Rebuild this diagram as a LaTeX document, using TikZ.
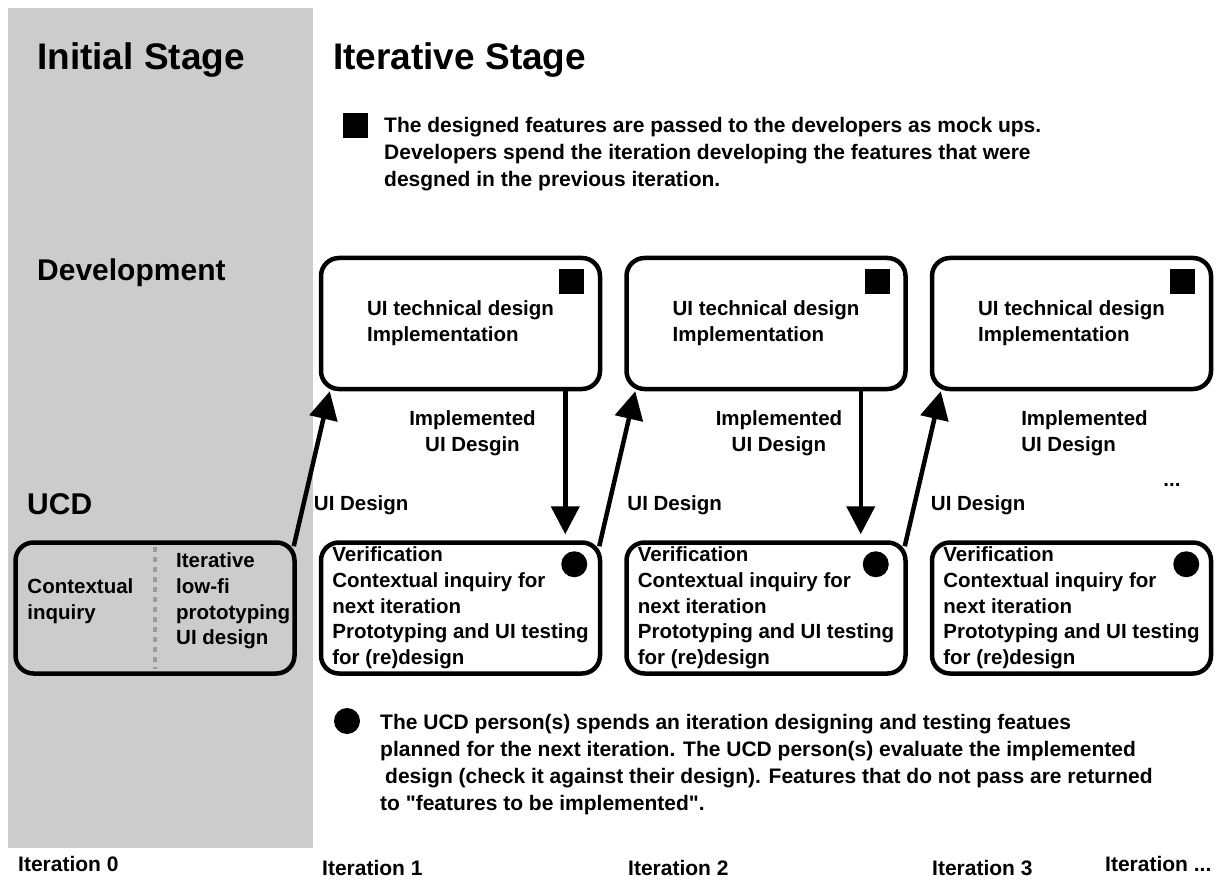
\documentclass[tikz,border=0pt]{standalone}
\usepackage{fontspec}
\setmainfont{Liberation Sans}
\usepackage{xcolor}
\usetikzlibrary{arrows.meta,positioning}

\definecolor{panelgray}{HTML}{CCCCCC}
\definecolor{dotgray}{HTML}{9A9A9A}
\newcommand{\boxfont}{\fontsize{20.5}{25.7}\selectfont\bfseries}

\tikzset{
  stagebox/.style={draw, line width=4.5pt, rounded corners=18pt,
    minimum width=279pt, minimum height=131pt,
    align=left, inner sep=0pt, font=\boxfont},
  initbox/.style={fill=panelgray},
  title/.style={font=\fontsize{37}{44}\selectfont\bfseries, inner sep=0pt},
  rowlabel/.style={font=\fontsize{30}{36}\selectfont\bfseries, inner sep=0pt},
  boxtext/.style={font=\boxfont, align=left, inner sep=0pt},
  note/.style={font=\fontsize{21}{27}\selectfont\bfseries, align=left, inner sep=0pt},
  devmark/.style={fill=black, minimum size=25pt, inner sep=0pt},
  ucdmark/.style={circle, fill=black, minimum size=26pt, inner sep=0pt},
  divider/.style={draw=dotgray, line width=4.5pt, dash pattern=on 5pt off 5pt},
  flow/.style={line width=4.5pt, -{Triangle[length=28pt,width=28pt]}},
}

\begin{document}
\begin{tikzpicture}[x=1pt,y=-1pt]
    \path[fill=white] (0,0) rectangle (1223,882);
    \fill[panelgray] (8,8) rectangle (313,848);

    \node[title, anchor=base west] (init) at (37,70) {Initial Stage};
    \node[title, anchor=base west] (iter) at (333,70) {Iterative Stage};
    \node[rowlabel, anchor=base west] (dev) at (37,281) {Development};
    \node[rowlabel, anchor=base west] (ucd) at (27,514) {UCD};

    % key for the developer boxes
    \node[devmark, anchor=north west] (sqkey) at (343,113) {};
    \node[note, anchor=north west] (sqnote) at (384,117)
      {The designed features are passed to the developers as mock ups.\\
       Developers spend the iteration developing the features that were\\
       desgned in the previous iteration.};

    % UCD row
    \node[stagebox, initbox] (ucd0) at (155,608) {};
    \node[stagebox, right=22pt of ucd0] (ucd1) {Verification\\Contextual inquiry for\\next iteration\\Prototyping and UI testing\\for (re)design};
    \node[stagebox, right=22pt of ucd1] (ucd2) {Verification\\Contextual inquiry for\\next iteration\\Prototyping and UI testing\\for (re)design};
    \node[stagebox, right=22pt of ucd2] (ucd3) {Verification\\Contextual inquiry for\\next iteration\\Prototyping and UI testing\\for (re)design};

    % development row
    \node[stagebox, above=149pt of ucd1] (dev1) {UI technical design\\Implementation};
    \node[stagebox, above=149pt of ucd2] (dev2) {UI technical design\\Implementation};
    \node[stagebox, above=149pt of ucd3] (dev3) {UI technical design\\Implementation};

    % initial UCD box
    \node[boxtext, anchor=west] (ctx) at ([xshift=14pt,yshift=7pt]ucd0.west) {Contextual\\inquiry};
    \node[boxtext, anchor=west] (lofi) at ([xshift=21pt,yshift=7pt]ucd0.center) {Iterative\\low-fi\\prototyping\\UI design};
    \draw[divider] ([yshift=-7pt]ucd0.north) -- ([yshift=7pt]ucd0.south);

    \node[devmark, anchor=north east] at ([xshift=-18pt,yshift=-13pt]dev1.north east) {};
    \node[devmark, anchor=north east] at ([xshift=-18pt,yshift=-13pt]dev2.north east) {};
    \node[devmark, anchor=north east] at ([xshift=-18pt,yshift=-13pt]dev3.north east) {};
    \node[ucdmark] at ([xshift=-28pt,yshift=-24pt]ucd1.north east) {};
    \node[ucdmark] at ([xshift=-32pt,yshift=-24pt]ucd2.north east) {};
    \node[ucdmark] at ([xshift=-27pt,yshift=-24pt]ucd3.north east) {};

    \draw[flow] ([xshift=-3pt,yshift=-6pt]ucd0.north east) -- ([xshift=11pt]dev1.south west);
    \draw[flow] ([xshift=-3pt,yshift=-6pt]ucd1.north east) -- ([xshift=11pt]dev2.south west);
    \draw[flow] ([xshift=-3pt,yshift=-6pt]ucd2.north east) -- ([xshift=11pt]dev3.south west);
    \draw[flow] ([xshift=-37pt]dev1.south east) -- ([xshift=-37pt,yshift=6pt]ucd1.north east);
    \draw[flow] ([xshift=-47pt]dev2.south east) -- ([xshift=-47pt,yshift=6pt]ucd2.north east);

    \node[boxtext, align=center, below=19pt of dev1, xshift=12pt] (impl1) {Implemented\\UI Desgin};
    \node[boxtext, align=center, below=19pt of dev2, xshift=13pt] (impl2) {Implemented\\UI Design};
    \node[boxtext, below=19pt of dev3, xshift=13pt] (impl3) {Implemented\\UI Design};
    \node[boxtext, anchor=south west] (uid1) at ([xshift=-5pt,yshift=25pt]ucd1.north west) {UI Design};
    \node[boxtext, anchor=south west] (uid2) at ([xshift=3pt,yshift=25pt]ucd2.north west) {UI Design};
    \node[boxtext, anchor=south west] (uid3) at ([xshift=1pt,yshift=25pt]ucd3.north west) {UI Design};
    \node[boxtext, anchor=base] (more) at (1172,486) {...};

    % key for the UCD boxes
    \node[ucdmark] (dotkey) at (347,721) {};
    \node[note, anchor=north west] (dotnote) at (380,714)
      {The UCD person(s) spends an iteration designing and testing featues\\
       planned for the next iteration. The UCD person(s) evaluate the implemented\\
       \hspace*{5pt}design (check it against their design). Features that do not pass are returned\\
       to \textquotedbl features to be implemented\textquotedbl.};

    \node[note, anchor=base west] (it0) at (18,871) {Iteration 0};
    \node[note, anchor=base west] (it1) at (322,875) {Iteration 1};
    \node[note, anchor=base west] (it2) at (628,875) {Iteration 2};
    \node[note, anchor=base west] (it3) at (932,875) {Iteration 3};
    \node[note, anchor=base west] (itn) at (1105,871) {Iteration ...};
\end{tikzpicture}
\end{document}
